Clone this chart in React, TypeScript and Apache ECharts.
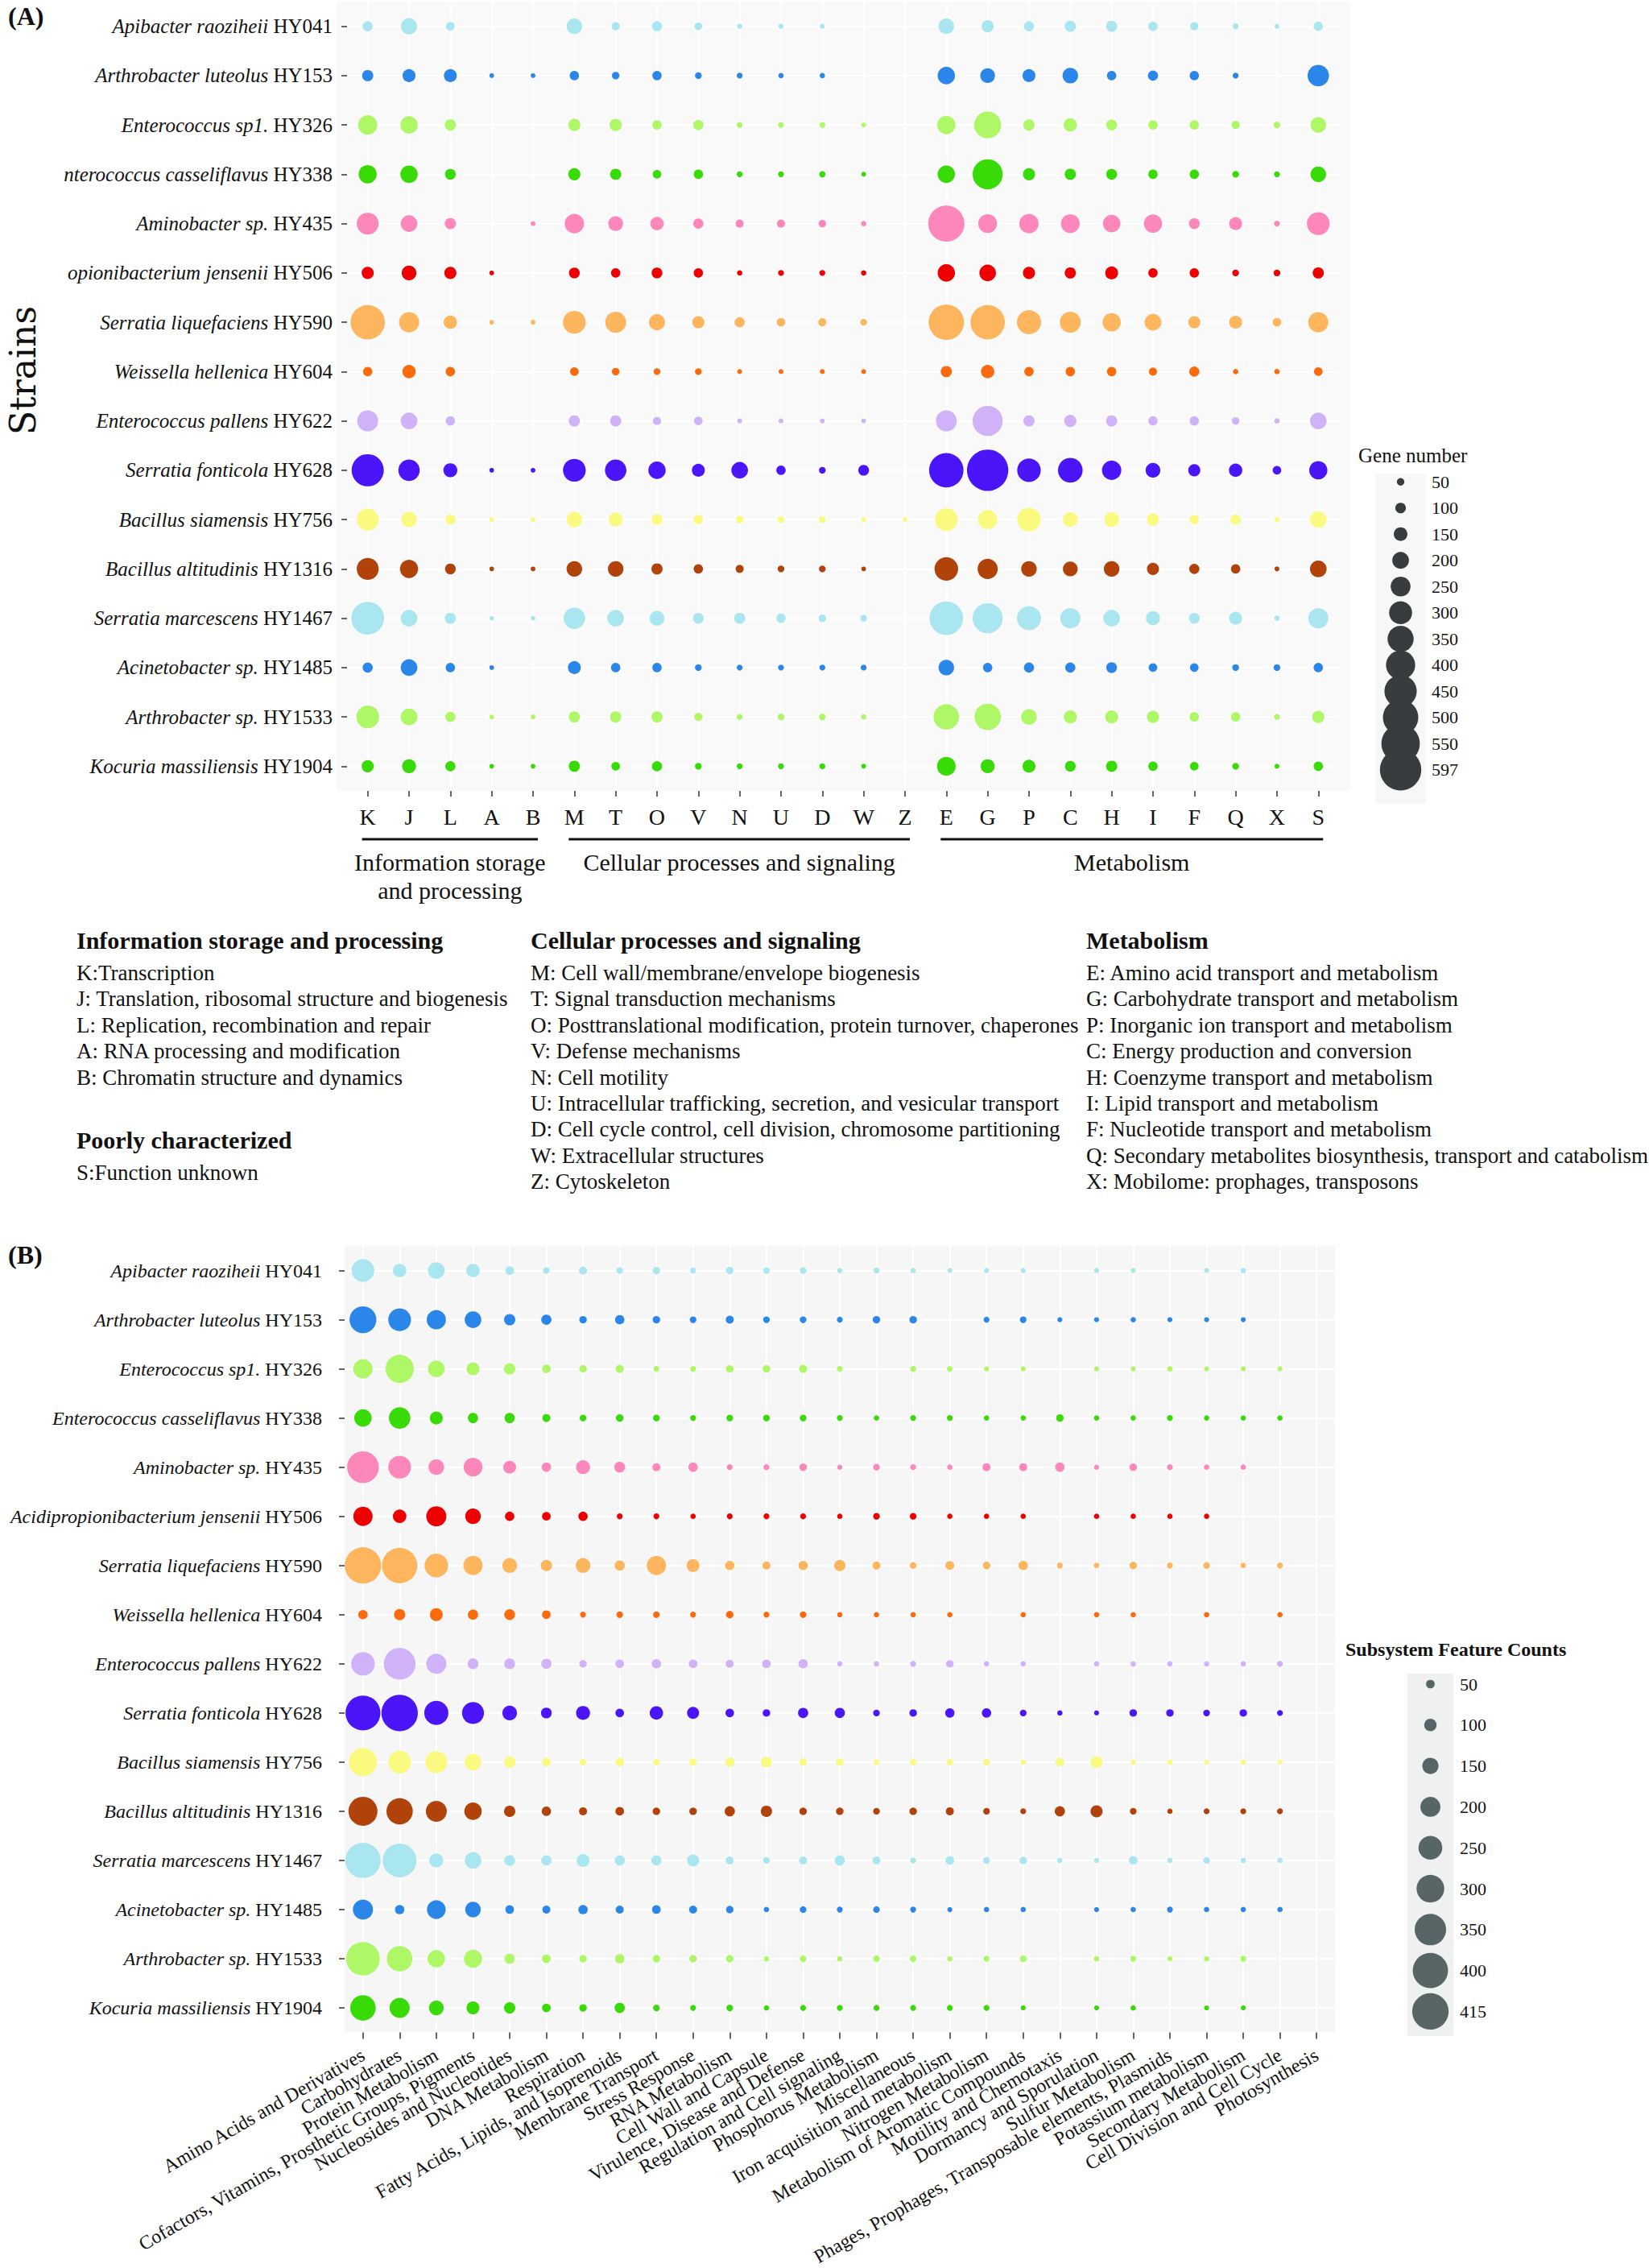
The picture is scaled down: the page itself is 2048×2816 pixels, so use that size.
import React, { useEffect, useRef } from "react";
import * as echarts from "echarts";

const FONT = "'Liberation Serif', 'Times New Roman', Times, serif";

// ---------- shared row data ----------
const speciesA = [
  "Apibacter raoziheii", "Arthrobacter luteolus", "Enterococcus sp1.", "nterococcus casseliflavus",
  "Aminobacter sp.", "opionibacterium jensenii", "Serratia liquefaciens", "Weissella hellenica",
  "Enterococcus pallens", "Serratia fonticola", "Bacillus siamensis", "Bacillus altitudinis",
  "Serratia marcescens", "Acinetobacter sp.", "Arthrobacter sp.", "Kocuria massiliensis",
];
const speciesB = [
  "Apibacter raoziheii", "Arthrobacter luteolus", "Enterococcus sp1.", "Enterococcus casseliflavus",
  "Aminobacter sp.", "Acidipropionibacterium jensenii", "Serratia liquefaciens", "Weissella hellenica",
  "Enterococcus pallens", "Serratia fonticola", "Bacillus siamensis", "Bacillus altitudinis",
  "Serratia marcescens", "Acinetobacter sp.", "Arthrobacter sp.", "Kocuria massiliensis",
];
const strainIds = [
  "HY041", "HY153", "HY326", "HY338", "HY435", "HY506", "HY590", "HY604",
  "HY622", "HY628", "HY756", "HY1316", "HY1467", "HY1485", "HY1533", "HY1904",
];
const rowColors = [
  "#AAE6EF", "#2B86E9", "#AEF766", "#38DB06", "#FD87BB", "#EE0000", "#FDB65E", "#FC6A0E",
  "#D0B2F8", "#4A16F9", "#FAFA80", "#B1420A", "#AAE6EF", "#2B86E9", "#AEF766", "#38DB06",
];

// ---------- panel A: COG categories ----------
const cogLetters = ["K", "J", "L", "A", "B", "M", "T", "O", "V", "N", "U", "D", "W", "Z", "E", "G", "P", "C", "H", "I", "F", "Q", "X", "S"];
const cogValues: number[][] = [
  [93, 189, 68, 0, 0, 180, 59, 93, 50, 12, 12, 10, 0, 0, 180, 124, 93, 110, 110, 80, 59, 24, 5, 80],
  [110, 137, 137, 5, 5, 80, 50, 80, 37, 24, 15, 15, 0, 0, 210, 167, 137, 180, 80, 93, 80, 24, 0, 276],
  [241, 210, 110, 0, 0, 124, 124, 80, 93, 24, 24, 24, 7, 0, 223, 362, 110, 145, 102, 80, 80, 59, 37, 180],
  [223, 210, 102, 0, 0, 124, 110, 68, 80, 24, 24, 30, 7, 0, 210, 414, 124, 110, 102, 80, 80, 37, 24, 180],
  [284, 198, 110, 0, 5, 241, 167, 145, 93, 59, 59, 50, 15, 0, 514, 232, 241, 232, 210, 223, 102, 137, 24, 297],
  [124, 167, 124, 5, 0, 102, 80, 102, 80, 15, 24, 24, 15, 0, 210, 198, 124, 110, 137, 80, 80, 37, 37, 110],
  [484, 254, 145, 5, 5, 297, 267, 189, 124, 93, 68, 59, 37, 0, 501, 484, 319, 267, 223, 198, 124, 137, 68, 254],
  [80, 145, 80, 0, 0, 68, 50, 37, 37, 7, 7, 10, 7, 0, 110, 145, 80, 80, 80, 59, 93, 15, 15, 68],
  [267, 198, 80, 0, 0, 110, 110, 59, 68, 7, 7, 7, 5, 0, 267, 414, 110, 124, 110, 80, 80, 50, 15, 198],
  [449, 276, 154, 5, 5, 297, 276, 210, 137, 198, 80, 37, 102, 0, 484, 597, 310, 328, 241, 167, 124, 145, 68, 223],
  [284, 180, 93, 5, 5, 180, 154, 102, 80, 50, 37, 37, 7, 5, 297, 241, 310, 167, 167, 124, 80, 93, 15, 198],
  [284, 223, 102, 5, 5, 180, 180, 110, 80, 59, 37, 37, 5, 0, 310, 254, 180, 167, 180, 124, 93, 80, 7, 198],
  [458, 198, 110, 3, 3, 276, 198, 167, 102, 110, 80, 50, 37, 0, 471, 414, 319, 254, 198, 154, 102, 137, 15, 254],
  [93, 198, 80, 5, 0, 137, 80, 80, 37, 24, 24, 24, 24, 0, 180, 80, 93, 93, 102, 68, 68, 37, 37, 80],
  [297, 198, 93, 5, 5, 110, 110, 110, 59, 24, 37, 37, 15, 0, 341, 354, 180, 137, 137, 124, 80, 80, 24, 124],
  [124, 154, 93, 5, 5, 110, 68, 93, 37, 24, 24, 24, 7, 0, 232, 154, 137, 102, 110, 80, 68, 37, 7, 80],
];
const geneLegend = [50, 100, 150, 200, 250, 300, 350, 400, 450, 500, 550, 597];

const cogGroups = [
  { lines: ["Information storage", "and processing"], from: "K", to: "B" },
  { lines: ["Cellular processes and signaling"], from: "M", to: "Z" },
  { lines: ["Metabolism"], from: "E", to: "S" },
];
const descInfoTitle = "Information storage and processing";
const descInfo = [
  "K:Transcription",
  "J: Translation, ribosomal structure and biogenesis",
  "L: Replication, recombination and repair",
  "A: RNA processing and modification",
  "B: Chromatin structure and dynamics",
];
const descPoorTitle = "Poorly characterized";
const descPoor = ["S:Function unknown"];
const descCellTitle = "Cellular processes and signaling";
const descCell = [
  "M: Cell wall/membrane/envelope biogenesis",
  "T: Signal transduction mechanisms",
  "O: Posttranslational modification, protein turnover, chaperones",
  "V: Defense mechanisms",
  "N: Cell motility",
  "U: Intracellular trafficking, secretion, and vesicular transport",
  "D: Cell cycle control, cell division, chromosome partitioning",
  "W: Extracellular structures",
  "Z: Cytoskeleton",
];
const descMetaTitle = "Metabolism";
const descMeta = [
  "E: Amino acid transport and metabolism",
  "G: Carbohydrate transport and metabolism",
  "P: Inorganic ion transport and metabolism",
  "C: Energy production and conversion",
  "H: Coenzyme transport and metabolism",
  "I: Lipid transport and metabolism",
  "F: Nucleotide transport and metabolism",
  "Q: Secondary metabolites biosynthesis, transport and catabolism",
  "X: Mobilome: prophages, transposons",
];

// ---------- panel B: subsystems ----------
const subsystems = [
  "Amino Acids and Derivatives", "Carbohydrates", "Protein Metabolism",
  "Cofactors, Vitamins, Prosthetic Groups, Pigments", "Nucleosides and Nucleotides", "DNA Metabolism",
  "Respiration", "Fatty Acids, Lipids, and Isoprenoids", "Membrane Transport", "Stress Response",
  "RNA Metabolism", "Cell Wall and Capsule", "Virulence, Disease and Defense",
  "Regulation and Cell signaling", "Phosphorus Metabolism", "Miscellaneous",
  "Iron acquisition and metabolism", "Nitrogen Metabolism", "Metabolism of Aromatic Compounds",
  "Motility and Chemotaxis", "Dormancy and Sporulation", "Sulfur Metabolism",
  "Phages, Prophages, Transposable elements, Plasmids", "Potassium metabolism",
  "Secondary Metabolism", "Cell Division and Cell Cycle", "Photosynthesis",
];
const subsystemValues: number[][] = [
  [236, 113, 155, 113, 50, 24, 42, 24, 35, 14, 35, 24, 24, 7, 14, 7, 3, 3, 3, 0, 3, 3, 0, 3, 7, 0, 0],
  [289, 236, 190, 155, 85, 71, 35, 60, 35, 24, 42, 24, 24, 14, 35, 35, 0, 14, 24, 3, 3, 7, 3, 3, 3, 0, 0],
  [190, 307, 155, 106, 85, 50, 35, 42, 14, 14, 35, 35, 42, 14, 0, 14, 14, 3, 3, 0, 3, 3, 7, 3, 3, 3, 0],
  [166, 219, 106, 71, 71, 42, 24, 35, 24, 14, 24, 24, 24, 14, 7, 14, 14, 7, 7, 35, 7, 7, 14, 7, 7, 7, 0],
  [353, 236, 141, 183, 106, 60, 120, 78, 42, 60, 14, 14, 35, 3, 24, 14, 7, 42, 42, 60, 3, 35, 14, 7, 7, 0, 0],
  [190, 113, 201, 141, 60, 50, 60, 14, 14, 7, 14, 14, 14, 7, 24, 24, 7, 7, 7, 0, 7, 7, 7, 7, 0, 0, 0],
  [415, 400, 247, 190, 130, 85, 130, 71, 190, 106, 60, 42, 60, 85, 42, 24, 50, 35, 60, 14, 7, 35, 14, 24, 7, 14, 0],
  [60, 85, 106, 71, 78, 50, 14, 24, 24, 14, 35, 14, 24, 7, 7, 7, 7, 0, 7, 0, 7, 7, 0, 7, 0, 7, 0],
  [247, 353, 201, 78, 78, 71, 35, 50, 60, 50, 42, 50, 60, 7, 7, 14, 35, 7, 7, 0, 7, 7, 7, 7, 7, 14, 0],
  [395, 415, 254, 226, 130, 78, 120, 50, 113, 95, 50, 35, 71, 71, 24, 35, 60, 60, 24, 7, 3, 35, 35, 24, 35, 14, 0],
  [307, 236, 226, 155, 85, 50, 24, 50, 24, 35, 60, 78, 35, 35, 14, 24, 24, 24, 7, 50, 95, 7, 7, 3, 7, 3, 0],
  [317, 282, 212, 166, 85, 60, 42, 50, 35, 35, 71, 85, 35, 35, 24, 35, 42, 24, 14, 71, 95, 24, 7, 14, 14, 14, 0],
  [400, 380, 120, 155, 78, 71, 106, 71, 71, 95, 42, 24, 42, 71, 42, 14, 50, 24, 35, 7, 3, 50, 7, 24, 7, 7, 0],
  [201, 60, 183, 141, 50, 42, 60, 42, 50, 42, 35, 7, 24, 14, 24, 14, 3, 7, 7, 0, 3, 7, 14, 7, 7, 7, 0],
  [377, 272, 166, 175, 71, 50, 35, 60, 35, 35, 35, 7, 24, 7, 24, 24, 7, 14, 24, 0, 7, 14, 3, 7, 14, 0, 0],
  [272, 201, 130, 106, 85, 50, 35, 71, 24, 14, 24, 7, 14, 14, 14, 14, 14, 14, 3, 0, 3, 7, 0, 3, 3, 0, 0],
];
const featureLegend = [50, 100, 150, 200, 250, 300, 350, 400, 415];

// ---------- styling helpers ----------
const sizeA = (v: number) => 5.5 + 0.0768 * v;
const sizeB = (v: number) => 6 + 0.0945 * v;

const A_L = 431, A_T = 2, A_UX = 51.33, A_H = 980;
const A_W = cogLetters.length * A_UX;
const B_L = 428, B_T = 1547, B_W = 1230, B_H = 986;

const range = (n: number) => Array.from({ length: n }, (_, i) => i);

function buildOption() {
  const dataA: number[][] = [];
  cogValues.forEach((row, r) => row.forEach((v, c) => { if (v > 0) dataA.push([c, r, v]); }));
  const dataB: number[][] = [];
  subsystemValues.forEach((row, r) => row.forEach((v, c) => { if (v > 0) dataB.push([c, r, v]); }));

  const rowIdx = range(strainIds.length);
  const colIdxA = range(cogLetters.length);

  const tickStyle = { color: "#333", width: 1.5 };
  const gridLine = { show: true, lineStyle: { color: "#FFFFFF", width: 2 } };
  const noLine = { show: false, onZero: false };
  const richLabel = (size: number) => ({
    i: { fontStyle: "italic", fontFamily: FONT, fontSize: size, color: "#111" },
    n: { fontFamily: FONT, fontSize: size, color: "#111" },
  });

  // free texts
  const graphics: any[] = [];
  graphics.push({
    type: "rect", z: -10, silent: true,
    shape: { x: 418, y: A_T, width: 1677 - 418, height: A_H },
    style: { fill: "#F9F9F9" },
  });
  const txt = (text: string, x: number, y: number, size: number, opts: any = {}) => ({
    type: "text", x, y, silent: true, rotation: opts.rotation || 0,
    style: {
      text, fill: "#111", fontSize: size, fontFamily: opts.family || FONT,
      fontWeight: opts.bold ? "bold" : "normal",
      textAlign: opts.align || "left", textVerticalAlign: "middle",
      align: opts.align || "left", verticalAlign: "middle",
    },
  });
  graphics.push(txt("(A)", 10, 20, 32, { bold: true }));
  graphics.push(txt("(B)", 10, 1558, 32, { bold: true }));
  graphics.push(txt("Strains", 28, 460, 44, { rotation: Math.PI / 2, align: "center", family: "'DejaVu Serif', serif" }));
  graphics.push(txt("Gene number", 1687, 565, 25));
  graphics.push(txt("Subsystem Feature Counts", 1671, 2048, 24, { bold: true }));

  const colX = (i: number) => A_L + (i + 0.5) * A_UX;
  cogGroups.forEach((g) => {
    const x1 = colX(cogLetters.indexOf(g.from)) - 7;
    const x2 = colX(cogLetters.indexOf(g.to)) + 6;
    graphics.push({ type: "line", silent: true, shape: { x1, y1: 1042, x2, y2: 1042 }, style: { stroke: "#111", lineWidth: 3 } });
    g.lines.forEach((l, k) => graphics.push(txt(l, (x1 + x2) / 2, 1070 + k * 35, 30, { align: "center" })));
  });

  const LH = 32.4;
  const addColumn = (title: string, items: string[], x: number, y0: number) => {
    graphics.push(txt(title, x, y0, 30, { bold: true }));
    items.forEach((t, k) => graphics.push(txt(t, x, y0 + 41 + k * LH, 27)));
  };
  addColumn(descInfoTitle, descInfo, 95, 1167);
  addColumn(descCellTitle, descCell, 659, 1167);
  addColumn(descMetaTitle, descMeta, 1349, 1167);
  addColumn(descPoorTitle, descPoor, 95, 1415);

  return {
    animation: false,
    backgroundColor: "#FFFFFF",
    textStyle: { fontFamily: FONT },
    graphic: graphics,
    grid: [
      { left: A_L, top: A_T, width: A_W, height: A_H, show: true, backgroundColor: "#F9F9F9", borderWidth: 0 },
      { left: 1708, top: 588, width: 63, height: 410, show: true, backgroundColor: "#F7F7F7", borderWidth: 0 },
      { left: B_L, top: B_T, width: B_W, height: B_H, show: true, backgroundColor: "#F6F6F6", borderWidth: 0 },
      { left: 1748, top: 2078, width: 57, height: 450, show: true, backgroundColor: "#EFF1F1", borderWidth: 0 },
    ],
    xAxis: [
      {
        type: "value", gridIndex: 0, position: "bottom", min: -0.5, max: cogLetters.length - 0.5,
        axisLine: noLine,
        axisTick: { show: true, length: 7, customValues: colIdxA, lineStyle: tickStyle },
        axisLabel: {
          customValues: colIdxA, formatter: (v: number) => cogLetters[Math.round(v)],
          fontFamily: FONT, fontSize: 28, color: "#111", margin: 18,
          showMinLabel: true, showMaxLabel: true,
        },
        splitLine: gridLine,
      },
      { type: "value", gridIndex: 1, min: -1, max: 1, show: false, axisLine: noLine },
      {
        // panel B category labels and ticks
        type: "category", gridIndex: 2, position: "bottom", data: subsystems, boundaryGap: true,
        axisLine: noLine,
        axisTick: { show: true, length: 8, alignWithLabel: true, interval: 0, lineStyle: tickStyle },
        axisLabel: {
          interval: 0, fontFamily: FONT, fontSize: 24, color: "#111", margin: 26, rotate: 30,
        },
        splitLine: { show: false },
      },
      { type: "value", gridIndex: 3, min: -1, max: 1, show: false, axisLine: noLine },
      {
        // panel B value axis: positions points and draws the grid lines
        type: "value", gridIndex: 2, position: "top", min: -0.5, max: subsystems.length - 0.5,
        axisLine: noLine, axisLabel: { show: false },
        axisTick: { show: false, customValues: range(subsystems.length) },
        splitLine: gridLine,
      },
    ],
    yAxis: [
      {
        type: "value", gridIndex: 0, position: "left", inverse: true, min: -0.5, max: strainIds.length - 0.5,
        axisLine: noLine,
        axisTick: { show: true, length: 7, customValues: rowIdx, lineStyle: tickStyle },
        axisLabel: {
          customValues: rowIdx,
          formatter: (v: number) => { const i = Math.round(v); return `{i|${speciesA[i]}} {n|${strainIds[i]}}`; },
          rich: richLabel(25), fontFamily: FONT, fontSize: 25, color: "#111", margin: 18,
          showMinLabel: true, showMaxLabel: true,
        },
        splitLine: gridLine,
      },
      {
        type: "value", gridIndex: 1, inverse: true, min: -0.315, max: 12.3, position: "right",
        axisLine: noLine, axisTick: { show: false }, splitLine: { show: false },
        axisLabel: {
          customValues: range(geneLegend.length), formatter: (v: number) => String(geneLegend[Math.round(v)]),
          fontFamily: FONT, fontSize: 22, color: "#111", margin: 7,
          showMinLabel: true, showMaxLabel: true,
        },
      },
      {
        type: "value", gridIndex: 2, position: "left", inverse: true, min: -0.5, max: strainIds.length - 0.5,
        axisLine: noLine,
        axisTick: { show: true, length: 7, customValues: rowIdx, lineStyle: tickStyle },
        axisLabel: {
          customValues: rowIdx,
          formatter: (v: number) => { const i = Math.round(v); return `{i|${speciesB[i]}} {n|${strainIds[i]}}`; },
          rich: richLabel(24), fontFamily: FONT, fontSize: 24, color: "#111", margin: 28,
          showMinLabel: true, showMaxLabel: true,
        },
        splitLine: gridLine,
      },
      {
        type: "value", gridIndex: 3, inverse: true, min: -0.256, max: 8.602, position: "right",
        axisLine: noLine, axisTick: { show: false }, splitLine: { show: false },
        axisLabel: {
          customValues: range(featureLegend.length), formatter: (v: number) => String(featureLegend[Math.round(v)]),
          fontFamily: FONT, fontSize: 22, color: "#111", margin: 8,
          showMinLabel: true, showMaxLabel: true,
        },
      },
    ],
    series: [
      {
        type: "scatter", xAxisIndex: 0, yAxisIndex: 0, data: dataA, silent: true, z: 3,
        symbolSize: (d: number[]) => sizeA(d[2]),
        itemStyle: { opacity: 1, color: (p: any) => rowColors[p.value[1]] },
      },
      {
        type: "scatter", xAxisIndex: 1, yAxisIndex: 1, silent: true,
        data: geneLegend.map((v, i) => [0, i, v]),
        symbolSize: (d: number[]) => sizeA(d[2]),
        itemStyle: { opacity: 1, color: "#373D3F" },
      },
      {
        type: "scatter", xAxisIndex: 4, yAxisIndex: 2, data: dataB, silent: true, z: 3,
        symbolSize: (d: number[]) => sizeB(d[2]),
        itemStyle: { opacity: 1, color: (p: any) => rowColors[p.value[1]] },
      },
      {
        type: "scatter", xAxisIndex: 3, yAxisIndex: 3, silent: true,
        data: featureLegend.map((v, i) => [0, i, v]),
        symbolSize: (d: number[]) => sizeB(d[2]),
        itemStyle: { opacity: 1, color: "#576567" },
      },
    ],
  };
}

export default function App() {
  const ref = useRef<HTMLDivElement>(null);
  useEffect(() => {
    if (!ref.current) return;
    const chart = echarts.init(ref.current, null, { renderer: "svg" });
    chart.setOption(buildOption() as any);
    return () => chart.dispose();
  }, []);
  return (
    <div
      ref={ref}
      style={{ position: "absolute", left: 0, top: 0, width: 2048, height: 2816, background: "#FFFFFF" }}
    />
  );
}
